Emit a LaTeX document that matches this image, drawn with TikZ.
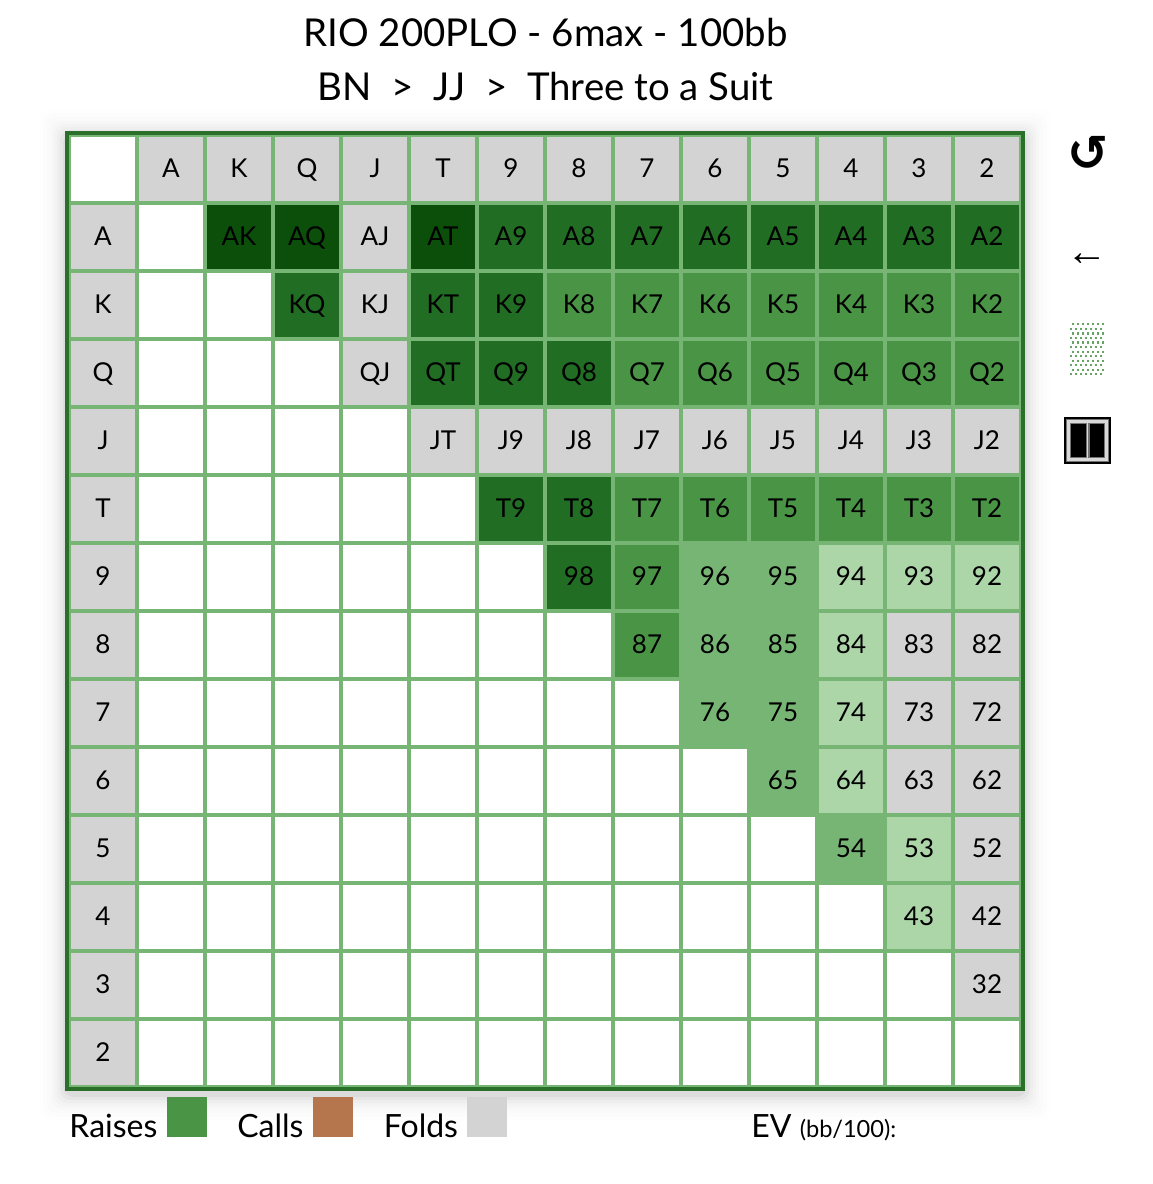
\documentclass[tikz,border=0pt]{standalone}
\usepackage{fontspec}
\setmainfont{Lato}
\newfontfamily\symfont{DejaVu Sans}
\newfontfamily\arrowfont{Liberation Sans}
\definecolor{rDarkest}{HTML}{0B4F0B}
\definecolor{rDark}{HTML}{226D24}
\definecolor{rMid}{HTML}{4A9446}
\definecolor{rLight}{HTML}{77B574}
\definecolor{rPale}{HTML}{ACD5A8}
\definecolor{fold}{HTML}{D3D3D3}
\definecolor{callc}{HTML}{B5764D}
\definecolor{frame}{HTML}{2A702A}
\tikzset{
  cell/.style={minimum width=48pt,minimum height=48pt,inner sep=0pt,outer sep=0pt,text height=14pt,text depth=2pt,font=\fontsize{19.5pt}{19.5pt}\selectfont,text=black,anchor=center},
  emptycell/.style={cell,fill=white},
  hd/.style={cell,fill=fold},
  fo/.style={cell,fill=fold},
  c0/.style={cell,fill=rDarkest},
  c1/.style={cell,fill=rDark},
  c2/.style={cell,fill=rMid},
  c3/.style={cell,fill=rLight},
  c4/.style={cell,fill=rPale},
  title/.style={font=\fontsize{28.8pt}{28.8pt}\selectfont,anchor=base},
  legend/.style={font=\fontsize{24pt}{24pt}\selectfont,anchor=base west,inner sep=0pt},
  swatch/.style={minimum width=30pt,minimum height=30pt,inner sep=0pt,anchor=north west},
}
\begin{document}
\begin{tikzpicture}[x=0.75pt,y=-0.75pt]
\useasboundingbox (0,0) rectangle (1152,1184);
\fill[white] (0,0) rectangle (1152,1184);
% soft shadow
\foreach \s/\o in {26/0.005,22/0.006,18/0.008,14/0.012,11/0.016,8/0.02,5/0.03,2/0.04}{
  \fill[black,opacity=\o,rounded corners=8pt] (65-\s,131-\s+4) rectangle (1025+\s,1091+\s+4);
}
\fill[frame] (65,131) rectangle (1025,1091);
\fill[rLight] (69,135) rectangle (1021,1087);
\node[title] (t1) at (545.5,46.8) {RIO 200PLO - 6max - 100bb};
\node[title] (t2) at (545.6,100.8) {BN\ \ >\ \ JJ\ \ >\ \ Three to a Suit};
\def\ranks{{"A","K","Q","J","T","9","8","7","6","5","4","3","2"}}
% corner
\node[emptycell] (corner) at (103,169) {};
\foreach \i in {0,...,12}{
  \pgfmathsetmacro{\r}{\ranks[\i]}
  \node[hd] (top\i) at (171+68*\i,169) {\r};
  \node[hd] (left\i) at (103,237+68*\i) {\r};
}
% body: row index / styles per column
\foreach \row/\codes in {
 0/{e,0,0,f,0,1,1,1,1,1,1,1,1},
 1/{e,e,1,f,1,1,2,2,2,2,2,2,2},
 2/{e,e,e,f,1,1,1,2,2,2,2,2,2},
 3/{e,e,e,e,f,f,f,f,f,f,f,f,f},
 4/{e,e,e,e,e,1,1,2,2,2,2,2,2},
 5/{e,e,e,e,e,e,1,2,3,3,4,4,4},
 6/{e,e,e,e,e,e,e,2,3,3,4,f,f},
 7/{e,e,e,e,e,e,e,e,3,3,4,f,f},
 8/{e,e,e,e,e,e,e,e,e,3,4,f,f},
 9/{e,e,e,e,e,e,e,e,e,e,3,4,f},
 10/{e,e,e,e,e,e,e,e,e,e,e,4,f},
 11/{e,e,e,e,e,e,e,e,e,e,e,e,f},
 12/{e,e,e,e,e,e,e,e,e,e,e,e,e}}{
  \foreach \code [count=\c from 0] in \codes {
    \pgfmathsetmacro{\ra}{\ranks[\row]}
    \pgfmathsetmacro{\rb}{\ranks[\c]}
    \if e\code
      \node[emptycell] (m\row-\c) at (171+68*\c,237+68*\row) {};
    \else\if f\code
      \node[fo] (m\row-\c) at (171+68*\c,237+68*\row) {\ra\rb};
    \else
      \node[c\code] (m\row-\c) at (171+68*\c,237+68*\row) {\ra\rb};
    \fi\fi
  }
}
% legend
\node[legend] (lr) at (69.2,1137) {Raises};
\node[swatch,fill=rMid] (sr) at (167,1097) {};
\node[legend] (lc) at (237,1137) {Calls};
\node[swatch,fill=callc] (sc) at (313,1097) {};
\node[legend] (lf) at (383.6,1137) {Folds};
\node[swatch,fill=fold] (sf) at (467,1097) {};
\node[legend] (ev) at (751.2,1137) {EV \fontsize{17.7pt}{17.7pt}\selectfont(bb/100):};
% side icons
\node[font=\symfont\bfseries\fontsize{37pt}{37pt}\selectfont,inner sep=0pt] (reload) at (1088.5,153) {\symbol{"21BA}};
\node[font=\arrowfont\fontsize{31pt}{31pt}\selectfont,inner sep=0pt] (back) at (1087,259.5) {\symbol{"2190}};
\foreach \j in {0,...,11}{
  \pgfmathsetmacro{\xo}{isodd(\j)?1071:1073.3}
  \foreach \k in {0,...,6}{
    \fill[rMid!85!white] ({\xo+5*\k-1.1},{324.3+4.55*\j-1.1}) rectangle ++(2.2,2.2);
  }
}
\fill[black] (1064,417) rectangle (1111,464);
\draw[black!55,line width=3.3pt] (1068.5,421.5) rectangle (1106.5,459.5);
\draw[black!55,line width=3pt] (1087.5,421.5) -- (1087.5,459.5);
\draw[black!15,line width=1.6pt] (1068.5,421.5) rectangle (1106.5,459.5);
\draw[black!15,line width=1.3pt] (1087.5,421.5) -- (1087.5,459.5);
\end{tikzpicture}
\end{document}
